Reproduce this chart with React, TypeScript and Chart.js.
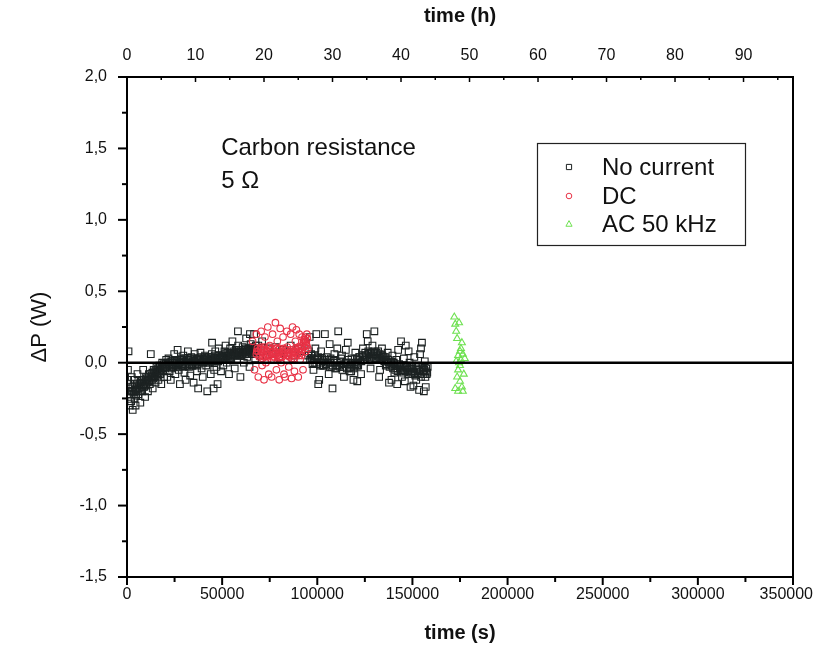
import { useEffect, useRef } from 'react';
import { Chart, registerables } from 'chart.js';
Chart.register(...registerables);

// ---- axis ticks ----
const xTicksS = [0, 50000, 100000, 150000, 200000, 250000, 300000, 350000];
const xMinorS = [25000, 75000, 125000, 175000, 225000, 275000, 325000];
const xTicksH = [0, 10, 20, 30, 40, 50, 60, 70, 80, 90];
const xMinorH = [5, 15, 25, 35, 45, 55, 65, 75, 85, 95];
const yTicks = [-1.5, -1.0, -0.5, 0, 0.5, 1.0, 1.5, 2.0];
const yMinor = [-1.25, -0.75, -0.25, 0.25, 0.75, 1.25, 1.75];

// ---- series (time in s, ΔP in W) ----
const noCurrentStart: number[][] = [
  [500, -0.05], [800, 0.08], [1200, -0.22], [1500, -0.3], [1800, -0.15], [2200, -0.27], [2500, -0.1], [3000, -0.33],
  [3300, -0.2], [3700, -0.12], [4000, -0.25], [4500, -0.3], [5000, -0.18], [5500, -0.08], [6000, -0.22], [6500, -0.15],
  [7000, -0.28], [7500, -0.12], [8000, -0.2], [8500, -0.05], [9000, -0.17], [9500, -0.24], [10000, -0.1], [10500, -0.14],
  [11000, -0.2], [11500, -0.08], [12000, -0.15], [12500, 0.06], [13000, -0.12], [13500, -0.18], [14000, -0.05], [14500, -0.1],
  [15000, -0.14], [15500, -0.03], [16000, -0.09], [16500, -0.12], [17000, -0.02], [17500, -0.07], [18000, -0.15], [18500, 0.0],
  [19000, -0.06], [19500, -0.1],
  [1000, -0.18], [2500, -0.2], [4000, -0.16], [5500, -0.19], [7000, -0.14], [8500, -0.15], [10000, -0.12], [11500, -0.13],
  [13000, -0.09], [14500, -0.1], [16000, -0.06], [17500, -0.08], [19000, -0.04],
  [600, -0.12], [1400, -0.2], [2000, -0.24], [2800, -0.17], [3500, -0.22], [4200, -0.19], [4800, -0.23], [5300, -0.15],
  [6200, -0.18], [6800, -0.2], [7300, -0.16], [7800, -0.13], [8300, -0.17], [8800, -0.12], [9300, -0.14], [9800, -0.16],
  [10300, -0.11], [10800, -0.13], [11300, -0.1], [11800, -0.12], [12300, -0.08], [12800, -0.1], [13300, -0.07], [13800, -0.11],
  [14300, -0.06], [14800, -0.08], [15300, -0.05], [15800, -0.07], [16300, -0.04], [16800, -0.06], [17300, -0.03], [17800, -0.05],
  [18300, -0.02], [18800, -0.04], [19300, -0.01], [19800, -0.03],
];
const noCurrentMid: number[][] = [
  [20000, -0.04], [20600, 0.02], [21200, -0.1], [21800, 0.03], [22400, -0.06], [23000, -0.12], [23600, 0.01], [24200, -0.03],
  [24800, 0.06], [25400, -0.08], [26000, -0.02], [26600, 0.09], [27200, -0.05], [27800, -0.15], [28400, 0.03], [29000, -0.01],
  [29600, 0.05], [30200, -0.07], [30800, -0.12], [31400, 0.02], [32000, 0.08], [32600, -0.03], [33200, -0.09], [33800, 0.04],
  [34400, -0.02], [35000, -0.14], [35600, 0.06], [36200, 0.0], [36800, -0.06], [37400, -0.18], [38000, 0.03], [38600, 0.07],
  [39200, -0.04], [39800, -0.1], [40400, 0.02], [41000, 0.05], [41600, -0.02], [42200, -0.2], [42800, 0.04], [43400, 0.0],
  [44000, -0.08], [44600, 0.06], [44700, 0.14], [45200, 0.02], [45500, -0.18], [45800, -0.05], [46400, 0.08], [47000, -0.03],
  [47600, -0.15], [48200, 0.1], [48800, 0.03], [49400, -0.06],
  [20500, -0.03], [22000, -0.01], [23500, -0.04], [25000, 0.0], [26500, -0.02], [28000, 0.01], [29500, -0.03], [31000, 0.0],
  [32500, 0.02], [34000, -0.01], [35500, 0.01], [37000, -0.02], [38500, 0.02], [40000, 0.0], [41500, 0.03], [43000, 0.01],
  [44500, 0.02], [46000, 0.0], [47500, 0.03], [49000, 0.02],
  [20300, -0.01], [21000, -0.03], [21500, 0.0], [22200, -0.02], [22800, 0.01], [23300, -0.03], [24000, 0.0], [24600, -0.02],
  [25200, 0.02], [25800, -0.01], [26300, 0.01], [26900, -0.03], [27500, 0.0], [28100, 0.02], [28700, -0.02], [29300, 0.01],
  [29900, 0.03], [30500, -0.01], [31100, 0.01], [31700, -0.02], [32300, 0.02], [32900, 0.0], [33500, 0.03], [34100, -0.02],
  [34700, 0.01], [35300, 0.03], [35900, 0.0], [36500, 0.02], [37100, -0.01], [37700, 0.03], [38300, 0.01], [38900, 0.04],
  [39500, 0.0], [40100, 0.02], [40700, 0.04], [41300, 0.01], [41900, 0.03], [42500, 0.0], [43100, 0.04], [43700, 0.02],
  [44300, 0.04], [44900, 0.01], [45500, 0.03], [46100, 0.05], [46700, 0.02], [47300, 0.04], [47900, 0.01], [48500, 0.05],
  [49100, 0.03], [49700, 0.04],
  [50000, 0.04], [50600, -0.02], [51200, 0.08], [51800, 0.12], [52400, 0.0], [53000, 0.05], [53600, -0.08], [54200, 0.1],
  [54800, 0.03], [55400, 0.15], [56000, 0.06], [56600, -0.04], [57200, 0.09], [57800, 0.02], [58300, 0.22], [58400, 0.12],
  [59000, 0.07], [59600, -0.1], [60200, 0.05], [60800, 0.11], [61400, 0.0], [62000, 0.08], [62600, 0.17], [63200, 0.04],
  [63800, 0.1], [64400, -0.03], [64600, 0.2], [65000, 0.13], [65600, 0.06], [66200, 0.09], [66800, 0.2], [67400, 0.03],
  [68000, 0.08],
  [50500, 0.03], [52000, 0.05], [53500, 0.03], [55000, 0.06], [56500, 0.05], [58000, 0.07], [59500, 0.05], [61000, 0.07],
  [62500, 0.06], [64000, 0.08], [65500, 0.07], [67000, 0.09],
  [50300, 0.05], [50900, 0.03], [51500, 0.06], [52100, 0.04], [52700, 0.07], [53300, 0.05], [53900, 0.06], [54500, 0.04],
  [55100, 0.07], [55700, 0.05], [56300, 0.08], [56900, 0.06], [57500, 0.08], [58100, 0.05], [58700, 0.09], [59300, 0.07],
  [59900, 0.08], [60500, 0.06], [61100, 0.09], [61700, 0.07], [62300, 0.1], [62900, 0.08], [63500, 0.09], [64100, 0.07],
  [64700, 0.1], [65300, 0.08], [65900, 0.11], [66500, 0.09], [67100, 0.1], [67700, 0.12],
  [69000, 0.12], [70000, 0.05], [71000, 0.15], [72000, 0.08], [74000, 0.1], [76000, 0.06], [78000, 0.11], [80000, 0.04],
  [82000, 0.09], [84000, 0.07], [86000, 0.12], [88000, 0.05], [90000, 0.1], [92000, 0.08], [94000, 0.14],
];
const noCurrentEnd: number[][] = [
  [96000, 0.18], [97000, 0.05], [98000, -0.05], [99000, 0.1], [100000, 0.02], [101000, -0.12], [102000, 0.08], [103000, -0.02],
  [104000, 0.2], [105000, 0.04], [106000, -0.08], [107000, 0.0], [108000, -0.18], [109000, 0.06], [110000, -0.04], [110500, 0.1],
  [111000, 0.22], [112000, -0.03], [113000, 0.05], [114000, -0.1], [115000, 0.09], [116000, 0.0], [117000, -0.06], [118000, 0.03],
  [119000, -0.12], [120000, 0.07], [121000, -0.02], [122000, 0.04], [123000, -0.08], [124000, 0.1], [125000, 0.02], [126000, 0.2],
  [127000, 0.06], [128000, -0.04], [129000, 0.12], [130000, 0.22], [131000, 0.03], [132000, 0.08], [133000, -0.05], [134000, 0.1],
  [135000, 0.04], [136000, -0.02], [137000, 0.07], [137700, -0.14], [138500, 0.0], [139500, 0.05], [140500, -0.07], [141500, 0.02],
  [142500, 0.09], [143500, -0.04], [144500, -0.1], [145500, 0.03], [146500, 0.12], [147500, -0.05], [148500, 0.0], [149000, -0.17],
  [150000, -0.08], [151000, 0.04], [152000, -0.12], [153000, -0.02], [154000, 0.06], [155000, 0.14], [155500, -0.06], [156000, -0.2],
  [156500, 0.01], [157000, -0.17], [157500, -0.08], [158000, -0.03],
  [95500, 0.08], [97000, 0.03], [98500, 0.0], [100000, 0.03], [101500, -0.02], [103000, 0.01], [104500, -0.01], [106000, 0.02],
  [107500, -0.03], [109000, 0.0], [110500, -0.02], [112000, 0.01], [113500, -0.03], [115000, 0.0], [116500, -0.04], [118000, -0.01],
  [119500, -0.03], [121000, 0.0], [122500, 0.02], [124000, 0.04], [125500, 0.05], [127000, 0.06], [128500, 0.04], [130000, 0.06],
  [131500, 0.05], [133000, 0.03], [134500, 0.04], [136000, 0.01], [137500, 0.0], [139000, -0.02], [140500, -0.01], [142000, -0.04],
  [143500, -0.02], [145000, -0.05], [146500, -0.03], [148000, -0.06], [149500, -0.04], [151000, -0.07], [152500, -0.05], [154000, -0.06],
  [155500, -0.04], [157000, -0.06],
  [95200, 0.05], [96200, 0.02], [96800, 0.06], [97500, -0.01], [98200, 0.03], [98800, 0.05], [99500, -0.01], [100500, 0.04],
  [101200, 0.0], [102500, 0.03], [103500, -0.02], [104200, 0.02], [105500, 0.0], [106500, -0.03], [107000, 0.03], [108200, -0.02],
  [108800, 0.02], [109500, -0.04], [110200, 0.0], [111500, -0.02], [112500, 0.03], [113200, -0.05], [114200, -0.01], [115500, -0.04],
  [116200, 0.02], [117200, -0.03], [117800, -0.06], [118500, 0.0], [119200, -0.04], [120200, -0.01], [120800, 0.03], [121500, -0.02],
  [122200, 0.04], [123200, 0.01], [123800, 0.05], [124500, 0.02], [125200, 0.07], [126200, 0.04], [126800, 0.08], [127500, 0.03],
  [128200, 0.07], [129200, 0.05], [129800, 0.08], [130500, 0.03], [131200, 0.07], [132200, 0.04], [132800, 0.06], [133500, 0.02],
  [134200, 0.05], [135200, 0.01], [135800, 0.04], [136500, -0.01], [137200, 0.02], [138000, -0.03], [138800, 0.01], [139800, -0.04],
  [140200, 0.0], [141000, -0.05], [141800, -0.02], [142200, -0.06], [143000, -0.01], [143800, -0.05], [144200, -0.03], [145200, -0.07],
  [145800, -0.02], [146200, -0.06], [147200, -0.03], [147800, -0.08], [148200, -0.04], [149200, -0.07], [149800, -0.02], [150500, -0.06],
  [151500, -0.09], [152200, -0.04], [152800, -0.08], [153500, -0.05], [154500, -0.1], [155200, -0.03], [155800, -0.08], [156200, -0.05],
  [156800, -0.1], [157200, -0.04], [157800, -0.07],
  [139000, -0.12], [142000, -0.15], [146000, -0.13], [150500, -0.16], [153500, -0.19], [154500, 0.1], [148000, 0.08], [144000, 0.15],
  [126500, 0.15], [132500, -0.1], [121000, -0.13], [116000, 0.14], [106500, 0.13], [100500, -0.15], [99500, 0.2],
];
const dcScatter: number[][] = [
  [66000, 0.15], [67000, -0.05], [68000, 0.2], [69000, -0.1], [70000, 0.1], [70500, 0.22], [71000, -0.02], [72000, -0.12],
  [72500, 0.18], [73000, 0.0], [74000, 0.25], [74500, -0.08], [75000, 0.12], [76000, -0.1], [76500, 0.2], [77000, 0.02],
  [78000, 0.28], [78500, -0.05], [79000, 0.15], [80000, -0.12], [80500, 0.24], [81000, 0.0], [82000, 0.18], [82500, -0.08],
  [83000, -0.1], [84000, 0.22], [84500, 0.05], [85000, -0.03], [86000, 0.2], [86500, -0.11], [87000, 0.25], [88000, -0.06],
  [88500, 0.15], [89000, 0.23], [90000, -0.1], [90500, 0.2], [91000, 0.02], [92000, 0.18], [92500, -0.05], [93000, 0.16],
  [94000, 0.08], [94500, 0.2],
];
const dcCore: number[][] = [
  [68000, 0.06], [69000, 0.08], [70000, 0.05], [71000, 0.07], [72000, 0.09], [73000, 0.06], [74000, 0.08], [75000, 0.05],
  [76000, 0.07], [77000, 0.06], [78000, 0.08], [79000, 0.05], [80000, 0.07], [81000, 0.06], [82000, 0.08], [83000, 0.07],
  [84000, 0.05], [85000, 0.07], [86000, 0.06], [87000, 0.08], [88000, 0.07], [89000, 0.09], [90000, 0.08], [91000, 0.1],
  [92000, 0.12], [93000, 0.14], [93500, 0.16], [94000, 0.15], [94500, 0.12], [68500, 0.1], [70500, 0.11], [72500, 0.04],
  [74500, 0.11], [76500, 0.04], [78500, 0.1], [80500, 0.04], [82500, 0.1], [84500, 0.09], [86500, 0.03], [88500, 0.1],
  [90500, 0.05],
  [68200, 0.08], [69500, 0.04], [70200, 0.09], [71500, 0.05], [72200, 0.11], [73500, 0.08], [74200, 0.05], [75500, 0.09],
  [76200, 0.1], [77500, 0.04], [78200, 0.06], [79500, 0.09], [80200, 0.1], [81500, 0.04], [82200, 0.06], [83500, 0.09],
  [84200, 0.11], [85500, 0.04], [86200, 0.09], [87500, 0.05], [88200, 0.08], [89500, 0.06], [90200, 0.11], [91500, 0.07],
  [92200, 0.09], [92800, 0.15], [93200, 0.11], [93800, 0.18], [94200, 0.13], [94800, 0.17], [95000, 0.1], [71200, 0.03],
  [75800, 0.02], [79800, 0.03], [83800, 0.02], [87800, 0.03], [91800, 0.05],
];
const ac50k: number[][] = [
  [172000, 0.32], [172500, 0.27], [173000, 0.22], [173500, 0.17], [174000, 0.05], [174500, 0.0], [175000, -0.02], [175500, 0.1],
  [176000, 0.14], [176500, 0.06], [174000, -0.05], [173500, -0.1], [175000, -0.13], [172500, -0.18], [174000, -0.2], [176000, -0.17],
  [177000, -0.08], [175500, 0.02], [173000, 0.01], [176500, -0.2], [177500, 0.03], [174500, 0.28], [175000, 0.08],
];

const seriesLabels = ['No current', 'DC', 'AC 50 kHz'];
const noteLines = ['Carbon resistance', '5 \u03A9'];

const FONT = "'Liberation Sans', Arial, Helvetica, sans-serif";
const toPts = (arr: number[][]) => arr.map(([x, y]) => ({ x, y }));
const fmtY = (v: number) => v.toFixed(1).replace('.', ',');

function marker(ctx: CanvasRenderingContext2D, style: string, x: number, y: number, r: number) {
  ctx.beginPath();
  if (style === 'rect') {
    ctx.rect(x - r, y - r, 2 * r, 2 * r);
  } else if (style === 'circle') {
    ctx.arc(x, y, r, 0, Math.PI * 2);
  } else {
    ctx.moveTo(x, y - r * 1.2);
    ctx.lineTo(x + r * 1.1, y + r * 0.8);
    ctx.lineTo(x - r * 1.1, y + r * 0.8);
    ctx.closePath();
  }
  ctx.stroke();
}

const framePlugin = {
  id: 'frame',
  afterDatasetsDraw(chart: any) {
    const { ctx, chartArea: a, scales } = chart;
    const sx = scales.x, sh = scales.x2, sy = scales.y;
    ctx.save();
    ctx.strokeStyle = '#000';
    ctx.lineCap = 'butt';
    const y0 = sy.getPixelForValue(0);
    ctx.lineWidth = 2.5;
    ctx.beginPath(); ctx.moveTo(a.left, y0); ctx.lineTo(a.right, y0); ctx.stroke();
    ctx.lineWidth = 2;
    ctx.strokeRect(a.left, a.top, a.right - a.left, a.bottom - a.top);
    const seg = (x1: number, y1: number, x2: number, y2: number) => {
      ctx.beginPath(); ctx.moveTo(x1, y1); ctx.lineTo(x2, y2); ctx.stroke();
    };
    ctx.lineWidth = 2;
    xTicksS.forEach(v => { const p = sx.getPixelForValue(v); seg(p, a.bottom, p, a.bottom + 8); });
    xMinorS.forEach(v => { const p = sx.getPixelForValue(v); seg(p, a.bottom, p, a.bottom + 5); });
    yTicks.forEach(v => { const p = sy.getPixelForValue(v); seg(a.left - 9, p, a.left, p); });
    yMinor.forEach(v => { const p = sy.getPixelForValue(v); seg(a.left - 5, p, a.left, p); });
    ctx.lineWidth = 1.5;
    xTicksH.forEach(v => { const p = sh.getPixelForValue(v); seg(p, a.top, p, a.top + 5); });
    xMinorH.forEach(v => { const p = sh.getPixelForValue(v); if (p < a.right - 2) seg(p, a.top, p, a.top + 3); });

    // bottom tick labels (kept inside the canvas at the right edge)
    ctx.fillStyle = '#111';
    ctx.font = `16px ${FONT}`;
    ctx.textAlign = 'center';
    ctx.textBaseline = 'top';
    const W = chart.width;
    sx.ticks.forEach((t: any) => {
      const label = String(t.value);
      const w = ctx.measureText(label).width;
      let p = sx.getPixelForValue(t.value);
      p = Math.min(p, W - 4 - w / 2);
      ctx.fillText(label, p, a.bottom + 10);
    });
    ctx.restore();
  },
  afterDraw(chart: any) {
    const { ctx, scales } = chart;
    ctx.save();
    ctx.fillStyle = '#111';
    ctx.font = `24px ${FONT}`;
    ctx.textBaseline = 'alphabetic';
    ctx.textAlign = 'left';
    const nx = scales.x.getPixelForValue(49500);
    ctx.fillText(noteLines[0], nx, scales.y.getPixelForValue(1.455));
    ctx.fillText(noteLines[1], nx, scales.y.getPixelForValue(1.22));
    ctx.strokeStyle = '#222';
    ctx.lineWidth = 1.2;
    ctx.strokeRect(537.5, 143.5, 208, 102);
    const rows = [167, 196, 224];
    chart.data.datasets.forEach((ds: any, i: number) => {
      ctx.strokeStyle = ds.borderColor;
      ctx.lineWidth = 1;
      marker(ctx, ds.pointStyle, 569, rows[i], ds.pointStyle === 'rect' ? 2.6 : 2.8);
      ctx.fillStyle = '#111';
      ctx.font = `24px ${FONT}`;
      ctx.textBaseline = 'middle';
      ctx.fillText(ds.label, 602, rows[i] + 1);
    });
    ctx.restore();
  },
};

const fitH = (h: number) => (s: any) => { s.height = h; s.paddingLeft = 0; s.paddingRight = 0; };

export default function App() {
  const ref = useRef<HTMLCanvasElement | null>(null);
  useEffect(() => {
    if (!ref.current) return;
    const tickFont = { family: FONT, size: 16 };
    const chart = new Chart(ref.current, {
      type: 'scatter',
      data: {
        datasets: [
          {
            label: seriesLabels[0],
            data: toPts([...noCurrentStart, ...noCurrentMid, ...noCurrentEnd]),
            pointStyle: 'rect', pointRadius: 4.7, borderColor: 'rgb(28,34,34)', backgroundColor: 'rgba(0,0,0,0)',
            borderWidth: 1.1, order: 3,
          },
          {
            label: seriesLabels[1],
            data: toPts([...dcScatter, ...dcCore]),
            pointStyle: 'circle', pointRadius: 3.3, borderColor: 'rgb(232,50,70)', backgroundColor: 'rgba(0,0,0,0)',
            borderWidth: 1.1, order: 2,
          },
          {
            label: seriesLabels[2],
            data: toPts(ac50k),
            pointStyle: 'triangle', pointRadius: 4, borderColor: 'rgb(110,225,80)', backgroundColor: 'rgba(0,0,0,0)',
            borderWidth: 1.1, order: 1,
          },
        ],
      },
      options: {
        responsive: false,
        animation: false,
        layout: { padding: { left: 0, right: 24, top: 0, bottom: 0 }, autoPadding: false },
        plugins: { legend: { display: false }, tooltip: { enabled: false } },
        scales: {
          x: {
            type: 'linear', position: 'bottom', min: 0, max: 350000,
            grid: { display: false }, border: { display: false },
            afterBuildTicks: (s: any) => { s.ticks = xTicksS.map(v => ({ value: v })); },
            afterFit: fitH(70),
            ticks: { display: false },
            title: { display: true, text: 'time (s)', font: { family: FONT, size: 20, weight: 'bold' }, color: '#111', padding: { top: 0, bottom: 2 } },
          },
          x2: {
            type: 'linear', axis: 'x', position: 'top', min: 0, max: 350000 / 3600,
            grid: { display: false }, border: { display: false },
            afterBuildTicks: (s: any) => { s.ticks = xTicksH.map(v => ({ value: v })); },
            afterFit: fitH(77),
            ticks: { font: tickFont, color: '#111', padding: 4, maxRotation: 0, callback: (v: any) => String(v) },
            title: { display: true, text: 'time (h)', font: { family: FONT, size: 20, weight: 'bold' }, color: '#111', padding: { top: 4, bottom: 0 } },
          },
          y: {
            type: 'linear', position: 'left', min: -1.5, max: 2.0,
            grid: { display: false }, border: { display: false },
            afterBuildTicks: (s: any) => { s.ticks = yTicks.map(v => ({ value: v })); },
            afterFit: (s: any) => { s.width = 127; s.paddingTop = 0; s.paddingBottom = 0; },
            ticks: { font: tickFont, color: '#111', padding: 12, callback: (v: any) => fmtY(Number(v)) },
            title: { display: true, text: '\u0394P (W)', font: { family: FONT, size: 22 }, color: '#111', padding: { top: 27, bottom: 0 } },
          },
        },
      },
      plugins: [framePlugin],
    } as any);
    return () => chart.destroy();
  }, []);
  return (
    <div style={{ position: 'absolute', left: 0, top: 0, width: 817, height: 647, background: '#fff' }}>
      <canvas ref={ref} width={817} height={647} style={{ display: 'block' }} />
    </div>
  );
}
